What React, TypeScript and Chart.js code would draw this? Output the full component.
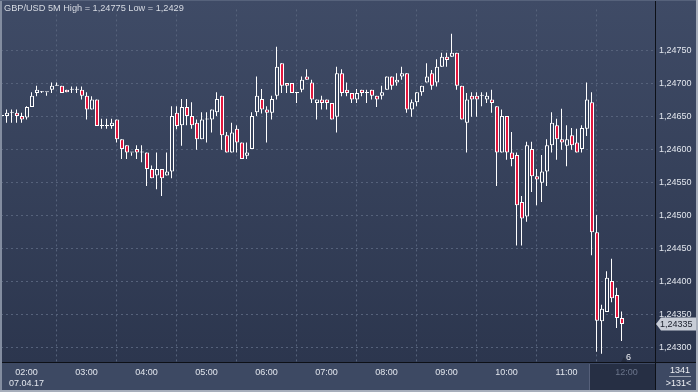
import { useEffect, useRef } from 'react';
import { Chart, registerables } from 'chart.js';

Chart.register(...registerables);

const titleText = 'GBP/USD 5M High = 1,24775 Low = 1,2429';
const dateLabel = '07.04.17';
const hourLabels = ['02:00', '03:00', '04:00', '05:00', '06:00', '07:00', '08:00', '09:00', '10:00', '11:00', '12:00'];
const hourCandle = [5, 17, 29, 41, 53, 65, 77, 89, 101, 113, 125];
const priceTicks = [1.243, 1.2435, 1.244, 1.2445, 1.245, 1.2455, 1.246, 1.2465, 1.247, 1.2475];
const lastPrice = 1.24335;
const barsTotal = '1341';
const zoomLabel = '>131<';
const markerLabel = '6';

const opens = [
  1.24650, 1.24650, 1.24655, 1.24655, 1.24650, 1.24648, 1.24664, 1.24685, 1.24686, 1.24686,
  1.24690, 1.24696, 1.24696, 1.24690, 1.24690, 1.24690, 1.24690, 1.24681, 1.24660, 1.24675,
  1.24635, 1.24635, 1.24635, 1.24645, 1.24615, 1.24606, 1.24595, 1.24600, 1.24595, 1.24595,
  1.24570, 1.24560, 1.24570, 1.24560, 1.24566, 1.24655, 1.24636, 1.24664, 1.24650, 1.24640,
  1.24615, 1.24645, 1.24645, 1.24656, 1.24681, 1.24621, 1.24595, 1.24631, 1.24610, 1.24590,
  1.24600, 1.24656, 1.24676, 1.24660, 1.24655, 1.24681, 1.24730, 1.24700, 1.24700, 1.24685,
  1.24690, 1.24710, 1.24701, 1.24670, 1.24675, 1.24675, 1.24670, 1.24649, 1.24715, 1.24690,
  1.24685, 1.24675, 1.24690, 1.24685, 1.24690, 1.24681, 1.24681, 1.24690, 1.24710, 1.24701,
  1.24710, 1.24715, 1.24660, 1.24671, 1.24686, 1.24701, 1.24715, 1.24701, 1.24725, 1.24740,
  1.24740, 1.24746, 1.24696, 1.24640, 1.24681, 1.24681, 1.24681, 1.24675, 1.24675, 1.24665,
  1.24595, 1.24650, 1.24595, 1.24591, 1.24520, 1.24498, 1.24600, 1.24559, 1.24549, 1.24566,
  1.24606, 1.24636, 1.24615, 1.24605, 1.24621, 1.24610, 1.24600, 1.24631, 1.24671, 1.24474,
  1.24339, 1.24353, 1.24400, 1.24379, 1.24344,
];
const highs = [
  1.24653, 1.24660, 1.24660, 1.24660, 1.24655, 1.24665, 1.24686, 1.24696, 1.24688, 1.24686,
  1.24701, 1.24701, 1.24696, 1.24690, 1.24695, 1.24695, 1.24695, 1.24686, 1.24680, 1.24675,
  1.24646, 1.24646, 1.24646, 1.24645, 1.24615, 1.24606, 1.24595, 1.24606, 1.24606, 1.24595,
  1.24575, 1.24595, 1.24570, 1.24595, 1.24665, 1.24665, 1.24676, 1.24676, 1.24671, 1.24645,
  1.24656, 1.24656, 1.24660, 1.24686, 1.24681, 1.24626, 1.24640, 1.24636, 1.24610, 1.24610,
  1.24656, 1.24710, 1.24691, 1.24665, 1.24681, 1.24755, 1.24730, 1.24700, 1.24700, 1.24685,
  1.24710, 1.24721, 1.24705, 1.24675, 1.24681, 1.24675, 1.24670, 1.24725, 1.24721, 1.24701,
  1.24685, 1.24691, 1.24690, 1.24690, 1.24690, 1.24681, 1.24696, 1.24710, 1.24710, 1.24715,
  1.24725, 1.24715, 1.24675, 1.24686, 1.24696, 1.24730, 1.24720, 1.24736, 1.24746, 1.24746,
  1.24775, 1.24746, 1.24696, 1.24685, 1.24686, 1.24686, 1.24686, 1.24686, 1.24690, 1.24665,
  1.24660, 1.24650, 1.24626, 1.24595, 1.24529, 1.24611, 1.24611, 1.24570, 1.24591, 1.24615,
  1.24656, 1.24646, 1.24661, 1.24636, 1.24632, 1.24631, 1.24636, 1.24701, 1.24686, 1.24500,
  1.24364, 1.24415, 1.24434, 1.24390, 1.24354,
];
const lows = [
  1.24648, 1.24640, 1.24640, 1.24640, 1.24640, 1.24645, 1.24664, 1.24680, 1.24685, 1.24681,
  1.24685, 1.24696, 1.24685, 1.24686, 1.24685, 1.24685, 1.24675, 1.24645, 1.24660, 1.24635,
  1.24631, 1.24631, 1.24631, 1.24610, 1.24585, 1.24585, 1.24590, 1.24585, 1.24580, 1.24544,
  1.24556, 1.24539, 1.24529, 1.24560, 1.24556, 1.24630, 1.24605, 1.24636, 1.24631, 1.24599,
  1.24615, 1.24610, 1.24625, 1.24650, 1.24599, 1.24595, 1.24595, 1.24595, 1.24585, 1.24585,
  1.24600, 1.24650, 1.24654, 1.24610, 1.24645, 1.24675, 1.24685, 1.24685, 1.24685, 1.24670,
  1.24686, 1.24705, 1.24670, 1.24645, 1.24660, 1.24660, 1.24645, 1.24625, 1.24680, 1.24680,
  1.24670, 1.24670, 1.24680, 1.24670, 1.24675, 1.24664, 1.24675, 1.24690, 1.24690, 1.24696,
  1.24705, 1.24655, 1.24649, 1.24665, 1.24681, 1.24701, 1.24690, 1.24695, 1.24725, 1.24725,
  1.24740, 1.24690, 1.24645, 1.24595, 1.24649, 1.24649, 1.24665, 1.24670, 1.24655, 1.24544,
  1.24595, 1.24584, 1.24574, 1.24454, 1.24454, 1.24490, 1.24535, 1.24515, 1.24520, 1.24544,
  1.24595, 1.24584, 1.24599, 1.24574, 1.24599, 1.24595, 1.24595, 1.24620, 1.24439, 1.24293,
  1.24290, 1.24353, 1.24368, 1.24329, 1.24309,
];
const closes = [
  1.24650, 1.24655, 1.24655, 1.24650, 1.24645, 1.24664, 1.24681, 1.24690, 1.24686, 1.24686,
  1.24696, 1.24696, 1.24685, 1.24686, 1.24690, 1.24690, 1.24681, 1.24660, 1.24675, 1.24635,
  1.24635, 1.24635, 1.24640, 1.24615, 1.24600, 1.24595, 1.24595, 1.24595, 1.24595, 1.24570,
  1.24556, 1.24570, 1.24556, 1.24566, 1.24650, 1.24635, 1.24664, 1.24650, 1.24636, 1.24615,
  1.24645, 1.24645, 1.24660, 1.24676, 1.24621, 1.24595, 1.24625, 1.24610, 1.24585, 1.24595,
  1.24650, 1.24681, 1.24660, 1.24655, 1.24676, 1.24725, 1.24696, 1.24696, 1.24685, 1.24685,
  1.24705, 1.24705, 1.24675, 1.24675, 1.24670, 1.24670, 1.24645, 1.24715, 1.24685, 1.24685,
  1.24675, 1.24685, 1.24685, 1.24685, 1.24681, 1.24675, 1.24686, 1.24710, 1.24696, 1.24705,
  1.24715, 1.24660, 1.24671, 1.24686, 1.24696, 1.24710, 1.24696, 1.24725, 1.24740, 1.24735,
  1.24746, 1.24696, 1.24645, 1.24675, 1.24675, 1.24675, 1.24681, 1.24681, 1.24670, 1.24595,
  1.24650, 1.24595, 1.24585, 1.24515, 1.24495, 1.24606, 1.24559, 1.24554, 1.24566, 1.24606,
  1.24640, 1.24615, 1.24610, 1.24615, 1.24606, 1.24595, 1.24632, 1.24675, 1.24474, 1.24340,
  1.24358, 1.24405, 1.24374, 1.24344, 1.24335,
];

const FONT = '"Liberation Sans", Arial, Helvetica, sans-serif';
const W = 698;
const H = 392;
const AXIS_X = 655;
const AXIS_Y = 362;
const BEAR = '#e3173e';

function bgGradient(ctx: CanvasRenderingContext2D) {
  const g = ctx.createLinearGradient(0, 0, 0, AXIS_Y);
  g.addColorStop(0, '#3f4b66');
  g.addColorStop(1, '#2c364e');
  return g;
}

function fmt(v: number) {
  return v.toFixed(5).replace('.', ',');
}

const decorPlugin = {
  id: 'decor',
  beforeDraw(chart: any) {
    const ctx = chart.ctx as CanvasRenderingContext2D;
    ctx.save();
    ctx.fillStyle = bgGradient(ctx);
    ctx.fillRect(0, 0, W, AXIS_Y);
    ctx.fillStyle = '#3d4963';
    ctx.fillRect(0, AXIS_Y, W, H - AXIS_Y);
    // future zone box under last time label
    ctx.fillStyle = '#262f44';
    ctx.fillRect(590, 364, AXIS_X - 590, 26);
    ctx.fillStyle = '#56607a';
    ctx.fillRect(589, 364, 1, 26);
    ctx.restore();
  },
  beforeDatasetDraw(chart: any, args: any) {
    if (args.index === 0) {
      chart.ctx.save();
      chart.ctx.translate(-0.5, 0);
    }
  },
  afterDatasetDraw(chart: any, args: any) {
    if (args.index === 0) chart.ctx.restore();
  },
  afterDraw(chart: any) {
    const ctx = chart.ctx as CanvasRenderingContext2D;
    ctx.save();
    // separators
    ctx.fillStyle = '#0d1017';
    ctx.fillRect(AXIS_X, 0, 1, H);
    ctx.fillRect(0, AXIS_Y, W, 1);
    // title
    ctx.font = `9.2px ${FONT}`;
    ctx.textBaseline = 'alphabetic';
    ctx.textAlign = 'left';
    ctx.fillStyle = '#d7dbe3';
    ctx.fillText(titleText, 4, 11);
    ctx.font = `9px ${FONT}`;
    // last price tag
    const yp = chart.scales.y.getPixelForValue(lastPrice);
    ctx.fillStyle = '#c8cdd7';
    ctx.beginPath();
    ctx.moveTo(656, yp);
    ctx.lineTo(661, yp - 6.5);
    ctx.lineTo(697, yp - 6.5);
    ctx.lineTo(697, yp + 6.5);
    ctx.lineTo(661, yp + 6.5);
    ctx.closePath();
    ctx.fill();
    ctx.fillStyle = '#1a1f2c';
    ctx.textBaseline = 'middle';
    ctx.fillText(fmt(lastPrice), 660, yp + 0.5);
    // marker
    ctx.fillStyle = '#232b3e';
    ctx.beginPath();
    ctx.moveTo(621, 362);
    ctx.lineTo(624, 357);
    ctx.lineTo(627, 362);
    ctx.closePath();
    ctx.fill();
    ctx.fillStyle = '#eef0f4';
    ctx.textAlign = 'center';
    ctx.fillText(markerLabel, 628.5, 358);
    // bottom-right box
    ctx.fillText(barsTotal, 680, 371);
    ctx.fillText(zoomLabel, 678.5, 383.5);
    ctx.fillStyle = '#9aa2b2';
    ctx.fillRect(669, 376, 22, 1);
    // frame
    ctx.fillStyle = '#838da0';
    ctx.fillRect(0, 0, 2, H);
    ctx.fillStyle = '#56627b';
    ctx.fillRect(0, 0, W, 1);
    ctx.fillStyle = '#a7aebb';
    ctx.fillRect(W - 2, 0, 2, H);
    ctx.fillRect(0, H - 2, W, 2);
    ctx.restore();
  },
};

export default function App() {
  const ref = useRef<HTMLCanvasElement | null>(null);

  useEffect(() => {
    const canvas = ref.current;
    if (!canvas) return;
    const ctx2d = canvas.getContext('2d') as CanvasRenderingContext2D;
    const bullFill = bgGradient(ctx2d);
    const wickData = opens.map((_, i) => ({ x: i, y: [lows[i], highs[i]] }));
    const bodyData = opens.map((o, i) => ({ x: i, y: [o, closes[i]] }));
    const bodyColors = opens.map((o, i) => (closes[i] < o ? BEAR : bullFill));

    const chart = new Chart(canvas, {
      type: 'bar',
      data: {
        datasets: [
          {
            label: 'wicks',
            data: wickData as any,
            backgroundColor: '#ffffff',
            borderWidth: 0,
            barThickness: 1,
            grouped: false,
            inflateAmount: 0,
            minBarLength: 1,
            order: 2,
          } as any,
          {
            label: 'bodies',
            data: bodyData as any,
            backgroundColor: bodyColors as any,
            borderColor: '#ffffff',
            borderWidth: 1,
            borderSkipped: false,
            barThickness: 4,
            grouped: false,
            inflateAmount: 0,
            minBarLength: 1,
            order: 1,
          } as any,
        ],
      },
      options: {
        animation: false,
        responsive: false,
        devicePixelRatio: 1,
        events: [],
        layout: { padding: { left: 1, top: 1, right: 0, bottom: 0 } },
        plugins: {
          legend: { display: false },
          tooltip: { enabled: false },
          title: { display: false },
        },
        scales: {
          x: {
            type: 'linear',
            min: -0.2,
            max: 130.6,
            offset: false,
            grid: { color: '#56627b', lineWidth: 1, drawTicks: false },
            border: { display: false, dash: [2, 3] },
            ticks: {
              autoSkip: false,
              maxRotation: 0,
              padding: 5,
              font: { family: FONT, size: 9 },
              color: (c: any) => (c.index === hourLabels.length - 1 ? '#6b758b' : '#e2e6ed'),
              callback: (_v: any, idx: number) => (idx === 0 ? [hourLabels[0], dateLabel] : hourLabels[idx]),
            },
            afterBuildTicks: (s: any) => {
              s.ticks = hourCandle.map((k) => ({ value: k - 0.1 }));
            },
            afterFit: (s: any) => {
              s.height = H - AXIS_Y;
            },
          } as any,
          y: {
            type: 'linear',
            position: 'right',
            min: 1.2427735,
            max: 1.2481173,
            grid: { color: '#56627b', lineWidth: 1, drawTicks: false },
            border: { display: false, dash: [2, 3] },
            ticks: {
              padding: 4,
              font: { family: FONT, size: 9 },
              color: '#e2e6ed',
              callback: (v: any) => fmt(Number(v)),
            },
            afterBuildTicks: (s: any) => {
              s.ticks = priceTicks.map((v) => ({ value: v }));
            },
            afterFit: (s: any) => {
              s.width = W - AXIS_X;
            },
          } as any,
        },
      },
      plugins: [decorPlugin],
    });
    return () => chart.destroy();
  }, []);

  return (
    <div style={{ position: 'fixed', left: 0, top: 0, width: W, height: H }}>
      <canvas ref={ref} width={W} height={H} style={{ display: 'block', width: W, height: H }} />
    </div>
  );
}
